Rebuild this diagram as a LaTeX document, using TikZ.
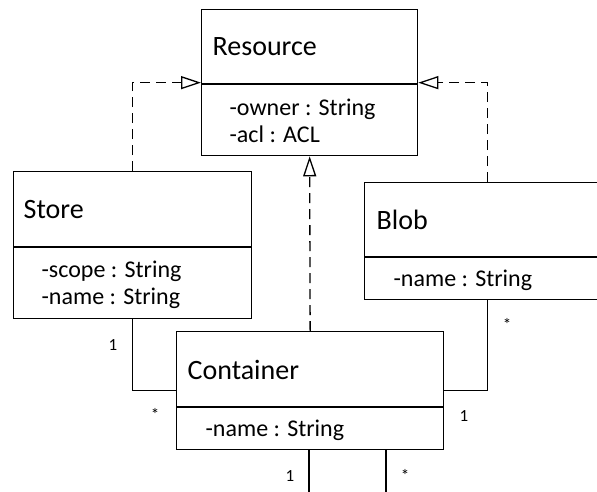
\documentclass[tikz,border=0pt]{standalone}
\usepackage{fontspec}
\setmainfont{Carlito}
\usetikzlibrary{arrows.meta}
\begin{document}
\begin{tikzpicture}[x=1pt,y=-1pt,line width=1.3pt,
  box/.style={draw, rectangle, inner sep=0pt, anchor=north west},
  title/.style={anchor=base west, inner sep=0pt, font=\fontsize{28}{30}\selectfont},
  attr/.style={anchor=base west, inner sep=0pt, font=\fontsize{24}{26}\selectfont},
  mult/.style={anchor=base, inner sep=0pt, font=\fontsize{17}{19}\selectfont},
  realize/.style={dash pattern=on 10pt off 6pt,
    -{Triangle[open, length=20pt, width=13pt, line width=1.3pt]}}]
\useasboundingbox (0,0) rectangle (597,491);

% class boxes
\node[box, minimum width=216pt, minimum height=146pt] (res)   at (201,9)   {};
\node[box, minimum width=238pt, minimum height=147pt] (store) at (13,171)  {};
\node[box, minimum width=246pt, minimum height=117pt] (blob)  at (364,182) {};
\node[box, minimum width=267pt, minimum height=118pt] (cont)  at (176,331) {};

% compartment dividers
\draw (res.west |- 0,84)    -- (res.east |- 0,84);
\draw (store.west |- 0,247) -- (store.east |- 0,247);
\draw (blob.west |- 0,257)  -- (blob.east |- 0,257);
\draw (cont.west |- 0,407)  -- (cont.east |- 0,407);

% names and attributes
\node[title] (resT)   at (212,55)  {Resource};
\node[attr]  (resA1)  at (229,115) {-owner : String};
\node[attr]  (resA2)  at (229,142) {-acl : ACL};
\node[title] (storeT) at (23,218)  {Store};
\node[attr]  (storeA1) at (41,277) {-scope : String};
\node[attr]  (storeA2) at (41,304) {-name : String};
\node[title] (blobT)  at (376,229) {Blob};
\node[attr]  (blobA1) at (393,286) {-name : String};
\node[title] (contT)  at (187,379) {Container};
\node[attr]  (contA1) at (205,436) {-name : String};

% realizations
\draw[realize] (store.north) |- (res.west);
\draw[realize] (blob.north)  |- (res.east);
\draw[realize] (cont.north)  -- (res.south);

% associations
\draw (store.south) |- (cont.west);
\draw (blob.south)  |- (cont.east);
\coordinate (out1) at (309,496);
\coordinate (out2) at (386,496);
\draw (cont.south -| out1) -- (out1);
\draw (cont.south -| out2) -- (out2);

% multiplicities
\node[mult] (m1) at (113,350) {1};
\node[mult] (m2) at (155,420) {*};
\node[mult] (m3) at (507,330) {*};
\node[mult] (m4) at (464,421) {1};
\node[mult] (m5) at (290,481) {1};
\node[mult] (m6) at (405,481) {*};
\end{tikzpicture}
\end{document}
